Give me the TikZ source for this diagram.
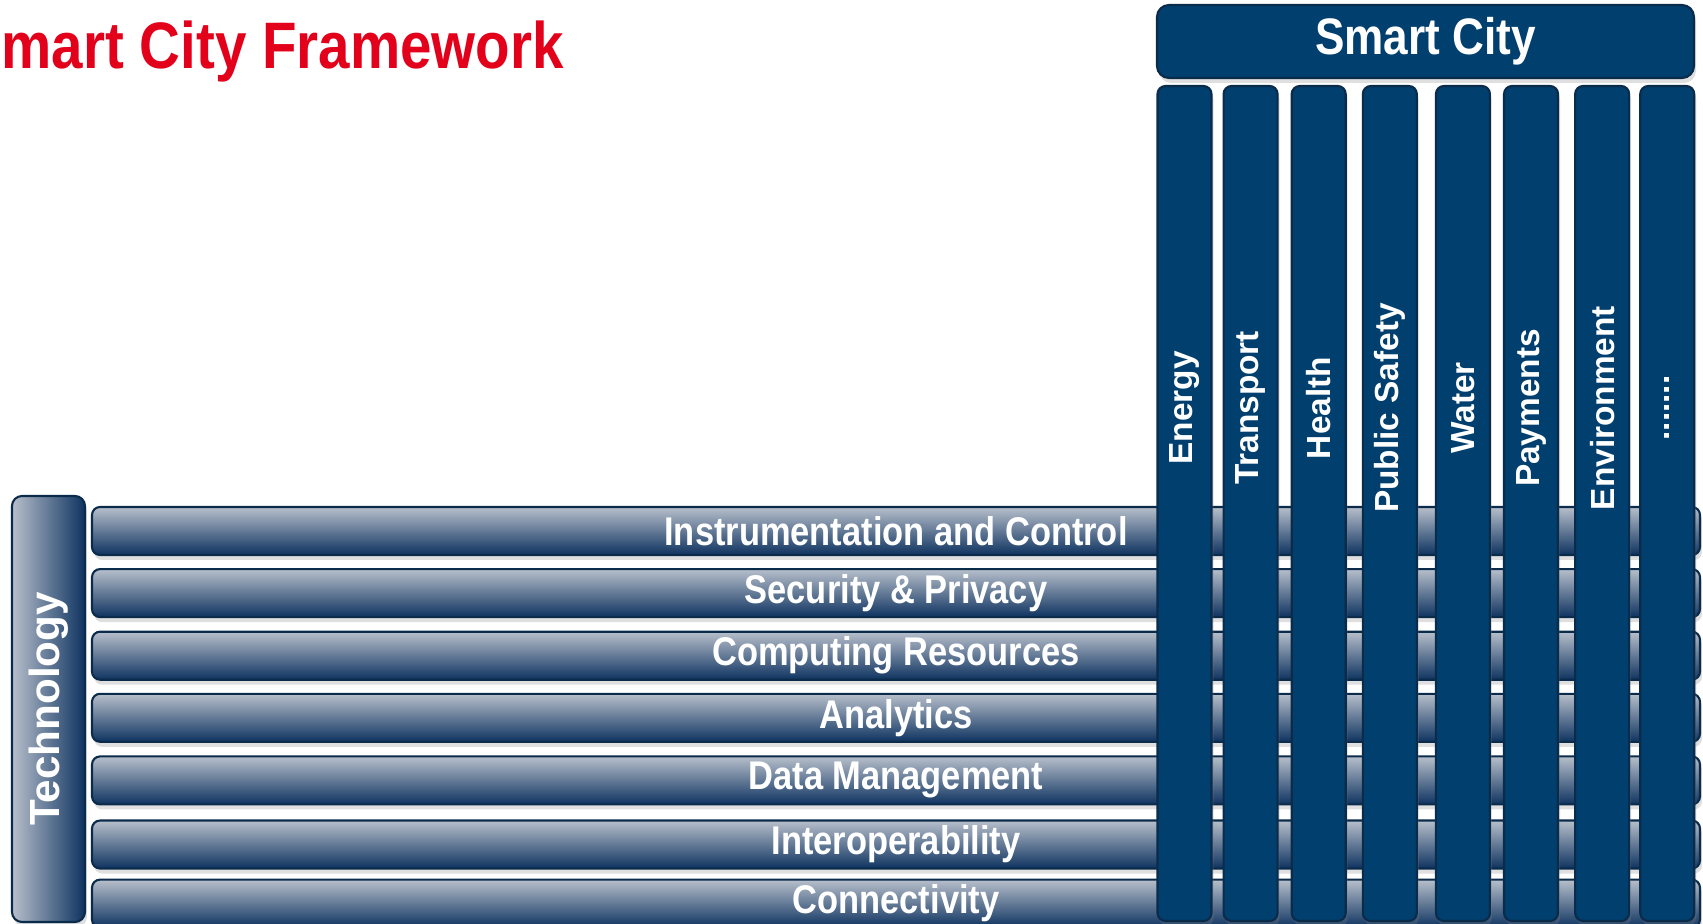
\documentclass[tikz,border=0pt]{standalone}
\usepackage{fontspec}
\setmainfont{Liberation Sans}
\newfontfamily\narrowfont[FakeStretch=0.86]{Liberation Sans}
\usepackage{tikz}
\usetikzlibrary{positioning,shadows}

\definecolor{cityblue}{HTML}{003F6E}
\definecolor{navyline}{HTML}{0B2B4B}
\definecolor{barlight}{HTML}{B7BFCB}
\definecolor{bardark}{HTML}{0E3360}
\definecolor{titlered}{HTML}{E2001A}

\begin{document}
\begin{tikzpicture}[x=0.1mm, y=-0.1mm, inner sep=0pt, line width=0.6pt]
				\tikzset{soft shadow/.style={drop shadow={shadow xshift=0.2mm, shadow yshift=-0.5mm, opacity=0.25}}}
				\tikzstyle{layer}=[draw=navyline, rounded corners=0.8mm, top color=barlight, bottom color=bardark, minimum width=160.8mm, minimum height=4.8mm, text=white, font=\narrowfont\bfseries\fontsize{11.4}{12}\selectfont, soft shadow]
				\tikzstyle{sector}=[draw=navyline, fill=cityblue, rounded corners=0.8mm, minimum width=5.4mm, minimum height=83.5mm, soft shadow]
				\tikzstyle{sectortext}=[rotate=90, text=white, font=\bfseries\fontsize{9.5}{10}\selectfont]

				\useasboundingbox (0,0) rectangle (1703,924);
				\clip (0,0) rectangle (1703,924);

				%TITULO
				\node[anchor=base west, text=titlered, font=\narrowfont\bfseries\fontsize{18.7}{20}\selectfont] (title) at (-37,69) {Smart City Framework};

				%TECNOLOGIA
				\node[draw=navyline, rounded corners=1mm, left color=barlight, right color=bardark, minimum width=7.3mm, minimum height=42.6mm, soft shadow] (tech) at (48.5,709) {};
				\node[rotate=90, text=white, font=\bfseries\fontsize{12}{13}\selectfont] (techtxt) at (tech.center) {Technology};

				%CAPAS
				\node[layer]				(instr) at (896,531)		{Instrumentation and Control};
				\node[layer]				(secur) [below=1.2mm of instr]	{Security \& Privacy};
				\node[layer]				(compu) [below=1.25mm of secur]	{Computing Resources};
				\node[layer]				(analy) [below=1.2mm of compu]	{Analytics};
				\node[layer]				(datam) [below=1.25mm of analy]	{Data Management};
				\node[layer]				(inter) [below=1.4mm of datam]	{Interoperability};
				\node[layer]				(conne) [below=0.9mm of inter]	{Connectivity};

				%SECTORES
				\node[sector]				(energy) at (1184.5,503.5)	{};
				\node[sector]				(transp) [right=1.0mm of energy]	{};
				\node[sector]				(health) [right=1.2mm of transp]	{};
				\node[sector]				(safety) [right=1.5mm of health]	{};
				\node[sector]				(water) [right=1.7mm of safety]	{};
				\node[sector]				(paymt) [right=1.2mm of water]	{};
				\node[sector]				(envir) [right=1.5mm of paymt]	{};
				\node[sector]				(more) [right=0.9mm of envir]	{};

				\node[sectortext]			(energytxt) at ([yshift=9.55mm]energy.center)	{Energy};
				\node[sectortext]			(transptxt) at ([yshift=9.55mm]transp.center)	{Transport};
				\node[sectortext]			(healthtxt) at ([yshift=9.55mm]health.center)	{Health};
				\node[sectortext]			(safetytxt) at ([yshift=9.55mm]safety.center)	{Public Safety};
				\node[sectortext]			(watertxt) at ([yshift=9.55mm]water.center)	{Water};
				\node[sectortext]			(paymttxt) at ([yshift=9.55mm]paymt.center)	{Payments};
				\node[sectortext]			(envirtxt) at ([yshift=9.55mm]envir.center)	{Environment};
				\node[sectortext]			(moretxt) at ([yshift=9.55mm]more.center)	{.......};

				%CIUDAD
				\node[draw=navyline, fill=cityblue, rounded corners=1.2mm, minimum width=53.7mm, minimum height=7.3mm, text=white, font=\narrowfont\bfseries\fontsize{14.6}{16}\selectfont, soft shadow] (city) at (1425.5,41.5) {\raisebox{-0.3mm}{Smart City}};
\end{tikzpicture}
\end{document}
